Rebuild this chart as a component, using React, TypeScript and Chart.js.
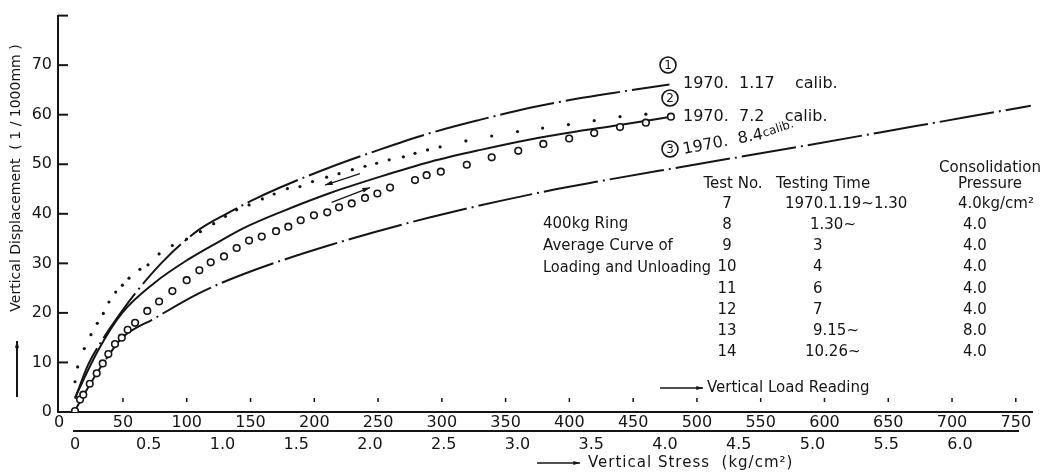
import React, { useEffect, useRef } from 'react';
import { Chart, registerables } from 'chart.js';

Chart.register(...registerables);

// ---- data (x = vertical stress kg/cm², y = vertical displacement 1/1000 mm) ----
const calib1Stress = [0, 0.09, 0.18, 0.3, 0.407, 0.61, 0.836, 1.02, 1.2, 1.39, 1.73, 2.07, 2.41, 2.75, 3.085, 3.4, 3.65, 4.03];
const calib1Disp = [2.7, 9.6, 14.3, 19.6, 23.9, 30.8, 36.7, 39.9, 42.7, 45.3, 49.4, 53.0, 56.3, 59.0, 61.4, 63.2, 64.4, 66.1];

const calib2Stress = [0, 0.158, 0.317, 0.54, 0.768, 0.995, 1.15, 1.39, 1.73, 2.07, 2.41, 2.75, 3.085, 3.4, 3.67, 4.04];
const calib2Disp = [2.9, 12.5, 19.9, 26.1, 30.8, 34.7, 37.2, 40.3, 44.2, 47.5, 50.5, 52.9, 55.0, 56.6, 57.8, 59.6];

const calib3Stress = [0, 0.1, 0.2, 0.317, 0.54, 0.836, 1.14, 1.73, 2.41, 3.25, 3.56, 4.1, 4.92, 5.7, 6.48];
const calib3Disp = [0.3, 5.5, 10.2, 14.9, 18.9, 23.9, 27.8, 33.7, 39.3, 44.9, 46.6, 49.4, 53.6, 57.7, 61.8];

const dotStress = [0, 0.018, 0.063, 0.108, 0.151, 0.192, 0.23, 0.276, 0.321, 0.366, 0.44, 0.495, 0.57, 0.66, 0.757, 0.85, 0.94, 1.02, 1.096, 1.18, 1.27, 1.35, 1.44, 1.525, 1.61, 1.706, 1.79, 1.88, 1.966, 2.045, 2.13, 2.226, 2.305, 2.39, 2.475, 2.65, 2.825, 3.0, 3.17, 3.345, 3.52, 3.695, 3.87];
const dotDisp = [6.1, 9.1, 12.8, 15.6, 17.9, 19.9, 22.2, 24.2, 25.6, 27.0, 28.8, 29.7, 31.9, 33.6, 34.9, 36.4, 38.0, 39.5, 40.8, 41.8, 43.0, 44.0, 45.1, 45.5, 46.5, 47.4, 48.1, 48.9, 49.6, 50.2, 50.9, 51.5, 52.2, 52.9, 53.5, 54.7, 55.7, 56.6, 57.3, 58.0, 58.8, 59.6, 60.1];

const circleStress = [0, 0.034, 0.056, 0.1, 0.147, 0.188, 0.226, 0.271, 0.317, 0.357, 0.407, 0.49, 0.57, 0.66, 0.757, 0.843, 0.92, 1.01, 1.096, 1.18, 1.266, 1.363, 1.446, 1.53, 1.62, 1.71, 1.79, 1.876, 1.966, 2.05, 2.136, 2.305, 2.384, 2.48, 2.656, 2.825, 3.005, 3.175, 3.35, 3.52, 3.695, 3.87, 4.04];
const circleDisp = [0.2, 2.5, 3.5, 5.7, 7.8, 9.8, 11.7, 13.7, 15.0, 16.6, 18.0, 20.4, 22.3, 24.4, 26.6, 28.6, 30.2, 31.4, 33.1, 34.6, 35.4, 36.5, 37.4, 38.7, 39.7, 40.3, 41.3, 42.1, 43.2, 44.1, 45.3, 46.8, 47.8, 48.5, 49.9, 51.4, 52.7, 54.1, 55.2, 56.3, 57.5, 58.4, 59.6];

// direction arrows [stress, disp] tail -> head
const unloadArrowStress = [1.932, 1.695];
const unloadArrowDisp = [48.1, 45.8];
const loadArrowStress = [1.74, 2.0];
const loadArrowDisp = [42.3, 45.3];

// axis ranges / ticks
const stressRange = [-0.1153, 6.488];
const loadRange = [-0.94, 762.7];
const dispRange = [0, 80];
const stressStep = 0.5;
const loadStep = 50;
const dispStep = 10;

// texts
const yTitle = 'Vertical Displacement  ( 1 / 1000mm )';
const stressTitle = 'Vertical Stress  (kg/cm²)';
const loadTitle = 'Vertical Load Reading';
const curveLabels = ['1970.  1.17    calib.', '1970.  7.2    calib.', '1970.  8.4', 'calib.'];
const tableHeaders = ['Test No.', 'Testing Time', 'Consolidation', 'Pressure'];
const ringNotes = ['400kg Ring', 'Average Curve of', 'Loading and Unloading'];
const testNos = ['7', '8', '9', '10', '11', '12', '13', '14'];
const testingTimes = ['1970.1.19~1.30', '1.30~', '3', '4', '6', '7', '9.15~', '10.26~'];
const pressures = ['4.0kg/cm²', '4.0', '4.0', '4.0', '4.0', '4.0', '8.0', '4.0'];

const FONT = '"DejaVu Sans", sans-serif';
const INK = '#151515';

const pts = (xs: number[], ys: number[]) => xs.map((x, i) => ({ x, y: ys[i] }));

function line(ctx: CanvasRenderingContext2D, x1: number, y1: number, x2: number, y2: number) {
  ctx.beginPath();
  ctx.moveTo(x1, y1);
  ctx.lineTo(x2, y2);
  ctx.stroke();
}

function arrow(ctx: CanvasRenderingContext2D, x1: number, y1: number, x2: number, y2: number, head = 7) {
  line(ctx, x1, y1, x2, y2);
  const a = Math.atan2(y2 - y1, x2 - x1);
  ctx.beginPath();
  ctx.moveTo(x2, y2);
  ctx.lineTo(x2 - head * Math.cos(a - 0.3), y2 - head * Math.sin(a - 0.3));
  ctx.lineTo(x2 - head * Math.cos(a + 0.3), y2 - head * Math.sin(a + 0.3));
  ctx.closePath();
  ctx.fill();
}

function circled(ctx: CanvasRenderingContext2D, n: string, x: number, y: number) {
  ctx.save();
  ctx.lineWidth = 1.6;
  ctx.beginPath();
  ctx.arc(x, y, 8, 0, Math.PI * 2);
  ctx.stroke();
  ctx.font = `12px ${FONT}`;
  ctx.textAlign = 'center';
  ctx.textBaseline = 'middle';
  ctx.fillText(n, x, y + 0.5);
  ctx.restore();
}

const annotations = {
  id: 'annotations',
  afterDraw(chart: any) {
    const ctx: CanvasRenderingContext2D = chart.ctx;
    const xS = chart.scales.x;
    const lS = chart.scales.load;
    const yS = chart.scales.y;
    const area = chart.chartArea;
    ctx.save();
    ctx.strokeStyle = INK;
    ctx.fillStyle = INK;
    ctx.lineWidth = 2;

    // inward y ticks
    for (const t of yS.ticks) {
      const py = yS.getPixelForValue(t.value);
      line(ctx, area.left, py, area.left + 10, py);
    }
    // small load marks above the axis
    ctx.lineWidth = 1.5;
    for (const t of lS.ticks) {
      if (t.value <= 0) continue;
      const px = lS.getPixelForValue(t.value);
      line(ctx, px, area.bottom - 14, px, area.bottom - 10);
    }
    // stress axis line
    ctx.lineWidth = 2;
    line(ctx, xS.getPixelForValue(0) - 2, xS.top, xS.getPixelForValue(6.4), xS.top);

    // direction arrows on data
    ctx.lineWidth = 1.3;
    arrow(ctx, xS.getPixelForValue(unloadArrowStress[0]), yS.getPixelForValue(unloadArrowDisp[0]),
      xS.getPixelForValue(unloadArrowStress[1]), yS.getPixelForValue(unloadArrowDisp[1]), 8);
    arrow(ctx, xS.getPixelForValue(loadArrowStress[0]), yS.getPixelForValue(loadArrowDisp[0]),
      xS.getPixelForValue(loadArrowStress[1]), yS.getPixelForValue(loadArrowDisp[1]), 8);

    // y title + arrow
    ctx.save();
    ctx.translate(16, 178);
    ctx.rotate(-Math.PI / 2);
    ctx.font = `14px ${FONT}`;
    ctx.textAlign = 'center';
    ctx.textBaseline = 'middle';
    ctx.fillText(yTitle, 0, 0);
    ctx.restore();
    ctx.lineWidth = 2;
    arrow(ctx, 17, 397, 17, 341, 7);

    // axis titles with arrows
    ctx.lineWidth = 1.5;
    arrow(ctx, 660, 388, 703, 388, 7);
    ctx.font = `15px ${FONT}`;
    ctx.textAlign = 'left';
    ctx.textBaseline = 'middle';
    ctx.fillText(loadTitle, 707, 388);
    arrow(ctx, 537, 463, 580, 463, 7);
    (ctx as any).letterSpacing = '1px';
    ctx.fillText(stressTitle, 588, 463);
    (ctx as any).letterSpacing = '0px';

    // curve labels
    circled(ctx, '1', 668, 65);
    circled(ctx, '2', 670, 98);
    circled(ctx, '3', 670, 149);
    ctx.font = `16px ${FONT}`;
    ctx.fillText(curveLabels[0], 683, 84);
    ctx.fillText(curveLabels[1], 683, 117);
    ctx.save();
    ctx.translate(683, 150);
    ctx.rotate(-0.19);
    ctx.fillText(curveLabels[2], 0, 0);
    ctx.restore();
    ctx.save();
    ctx.translate(763, 134);
    ctx.rotate(-0.32);
    ctx.font = `12px ${FONT}`;
    ctx.fillText(curveLabels[3], 0, 0);
    ctx.restore();

    // table
    ctx.font = `15px ${FONT}`;
    ctx.textAlign = 'center';
    ctx.fillText(tableHeaders[0], 733, 184);
    ctx.fillText(tableHeaders[1], 823, 184);
    ctx.fillText(tableHeaders[2], 990, 168);
    ctx.fillText(tableHeaders[3], 990, 184);
    ctx.textAlign = 'left';
    ringNotes.forEach((t, i) => ctx.fillText(t, 543, 224 + i * 22, 168));
    const rowY = (i: number) => 204 + i * 21.2;
    testNos.forEach((t, i) => {
      ctx.textAlign = 'center';
      ctx.fillText(t, 727, rowY(i));
    });
    testingTimes.forEach((t, i) => {
      ctx.textAlign = 'left';
      const x = i === 0 ? 785 : i === 1 ? 810 : i === 7 ? 805 : 813;
      ctx.fillText(t, x, rowY(i));
    });
    pressures.forEach((t, i) => {
      ctx.textAlign = 'left';
      ctx.fillText(t, i === 0 ? 958 : 963, rowY(i));
    });
    ctx.restore();
  },
};

export default function App() {
  const ref = useRef<HTMLCanvasElement | null>(null);
  useEffect(() => {
    if (!ref.current) return;
    const dashDot = [55, 5, 2, 5];
    const chart = new Chart(ref.current, {
      type: 'line',
      data: {
        datasets: [
          {
            label: 'loading',
            data: pts(circleStress, circleDisp),
            showLine: false,
            pointRadius: 3.3,
            pointBorderWidth: 1.6,
            pointBackgroundColor: '#ffffff',
            pointBorderColor: INK,
            borderColor: INK,
          },
          {
            label: 'dots',
            data: pts(dotStress, dotDisp),
            showLine: false,
            pointRadius: 1.6,
            pointBorderWidth: 0,
            pointBackgroundColor: INK,
            borderColor: INK,
          },
          {
            label: '1970.1.17 calib.',
            data: pts(calib1Stress, calib1Disp),
            borderColor: INK,
            borderWidth: 2,
            borderDash: dashDot,
            pointRadius: 0,
            cubicInterpolationMode: 'monotone',
          },
          {
            label: '1970.7.2 calib.',
            data: pts(calib2Stress, calib2Disp),
            borderColor: INK,
            borderWidth: 2,
            pointRadius: 0,
            cubicInterpolationMode: 'monotone',
          },
          {
            label: '1970.8.4 calib.',
            data: pts(calib3Stress, calib3Disp),
            borderColor: INK,
            borderWidth: 2,
            borderDash: dashDot,
            pointRadius: 0,
            cubicInterpolationMode: 'monotone',
          },
        ],
      },
      options: {
        animation: false,
        responsive: false,
        events: [],
        layout: { padding: { left: 0, top: 8, right: 22, bottom: 0 } },
        plugins: { legend: { display: false }, tooltip: { enabled: false } },
        scales: {
          x: {
            type: 'linear',
            position: 'bottom',
            weight: 1,
            min: stressRange[0],
            max: stressRange[1],
            grid: { display: false, drawTicks: false },
            border: { display: false },
            ticks: {
              stepSize: stressStep,
              includeBounds: false,
              autoSkip: false,
              maxRotation: 0,
              padding: 4,
              color: INK,
              font: { family: FONT, size: 16 },
              callback: (v: any) => (Number(v) === 0 ? '0' : Number(v).toFixed(1)),
            },
            afterFit: (s: any) => { s.height = 43; },
          },
          load: {
            type: 'linear',
            axis: 'x',
            position: 'bottom',
            weight: 0,
            min: loadRange[0],
            max: loadRange[1],
            grid: { display: false, drawTicks: false },
            border: { display: true, color: INK, width: 2 },
            ticks: {
              stepSize: loadStep,
              includeBounds: false,
              autoSkip: false,
              maxRotation: 0,
              padding: 1,
              color: INK,
              font: { family: FONT, size: 16 },
              callback: (v: any) => String(Math.round(Number(v))),
            },
            afterFit: (s: any) => { s.height = 19; },
          },
          y: {
            type: 'linear',
            position: 'left',
            min: dispRange[0],
            max: dispRange[1],
            grid: { display: false, drawTicks: false },
            border: { display: true, color: INK, width: 2 },
            ticks: {
              stepSize: dispStep,
              padding: 6,
              color: INK,
              font: { family: FONT, size: 16 },
              callback: (v: any) => (Number(v) >= 80 ? '' : String(v)),
            },
            afterFit: (s: any) => { s.width = 58; },
          },
        },
      } as any,
      plugins: [annotations],
    });
    return () => chart.destroy();
  }, []);

  return (
    <div style={{ position: 'absolute', left: 0, top: 0, width: 1054, height: 474, background: '#fff' }}>
      <canvas ref={ref} width={1054} height={474} style={{ display: 'block' }} />
    </div>
  );
}
